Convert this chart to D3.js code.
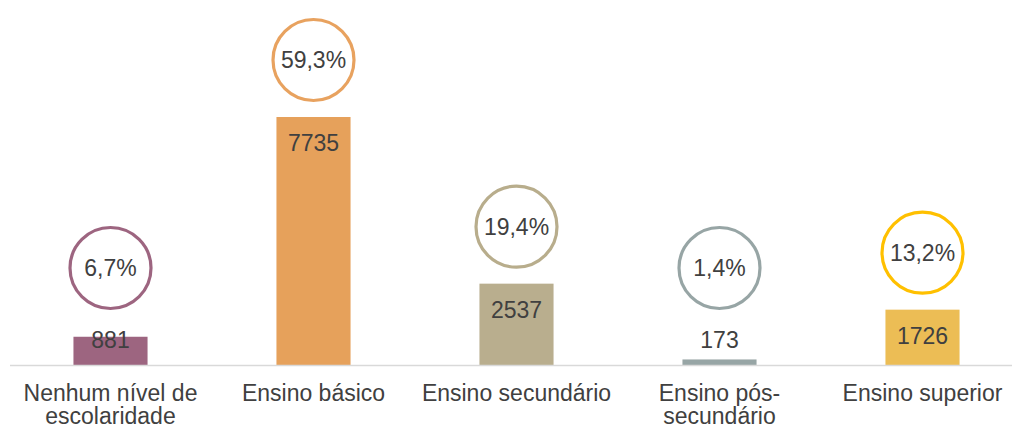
<!DOCTYPE html>
<html>
<head>
<meta charset="utf-8">
<script src="https://cdn.jsdelivr.net/npm/d3@7"></script>
<style>
  body { margin: 0; background: #fff; }
  text { font-family: "Liberation Sans", Arial, sans-serif; fill: #404040; }
</style>
</head>
<body>
<div id="chart"></div>
<script>
// Data
var categories = [
    ["Nenhum nível de", "escolaridade"],
    ["Ensino básico"],
    ["Ensino secundário"],
    ["Ensino pós-", "secundário"],
    ["Ensino superior"]
];
var counts = [881, 7735, 2537, 173, 1726];
var shares = ["6,7%", "59,3%", "19,4%", "1,4%", "13,2%"];

var barColors = ["#9d6580", "#e6a15b", "#b9ae8e", "#97a5a5", "#ecbd55"];
var ringColors = ["#9d6580", "#e8a25f", "#b8ad8c", "#97a5a5", "#ffc000"];

var width = 1012;
var height = 429;
var baseY = 365;

var svg = d3.select("#chart")
    .append("svg")
    .attr("width", width)
    .attr("height", height);

// Band scale for the categories
var x = d3.scaleBand()
    .domain(d3.range(categories.length))
    .range([9, 1024])
    .paddingInner(0.635)
    .paddingOuter(0.3175);

// Value scale
var y = d3.scaleLinear()
    .domain([0, 7735])
    .range([baseY, 117]);

// Bars
svg.selectAll(".bar")
    .data(counts)
    .enter().append("rect")
    .attr("class", "bar")
    .attr("x", (d, i) => x(i))
    .attr("y", d => y(d))
    .attr("width", x.bandwidth())
    .attr("height", d => baseY - y(d))
    .attr("fill", (d, i) => barColors[i]);

// Baseline
svg.append("line")
    .attr("x1", 10)
    .attr("x2", width)
    .attr("y1", baseY + 0.5)
    .attr("y2", baseY + 0.5)
    .attr("stroke", "#d9d9d9")
    .attr("stroke-width", 1.5);

// Value labels (inside end, pushed up when the bar is too short)
svg.selectAll(".value")
    .data(counts)
    .enter().append("text")
    .attr("class", "value")
    .attr("x", (d, i) => x(i) + x.bandwidth() / 2)
    .attr("y", d => Math.min(y(d) + 26, 340))
    .attr("dy", "0.35em")
    .attr("text-anchor", "middle")
    .style("font-size", "23px")
    .text(d => d);

// Percentage rings above the bars
var rings = svg.selectAll(".ring")
    .data(counts)
    .enter().append("g")
    .attr("class", "ring")
    .attr("transform", (d, i) =>
        `translate(${x(i) + x.bandwidth() / 2}, ${Math.min(y(d) - 57, 268)})`);

rings.append("circle")
    .attr("r", 40.5)
    .attr("fill", "#fff")
    .attr("stroke", (d, i) => ringColors[i])
    .attr("stroke-width", 3.2);

rings.append("text")
    .attr("dy", "0.35em")
    .attr("text-anchor", "middle")
    .style("font-size", "23px")
    .text((d, i) => shares[i]);

// Category labels
var cats = svg.selectAll(".cat")
    .data(categories)
    .enter().append("text")
    .attr("class", "cat")
    .attr("text-anchor", "middle")
    .attr("x", (d, i) => x(i) + x.bandwidth() / 2)
    .attr("y", 401)
    .style("font-size", "23px");

cats.selectAll("tspan")
    .data(d => d)
    .enter().append("tspan")
    .attr("x", function() { return this.parentNode.getAttribute("x"); })
    .attr("dy", (d, i) => i === 0 ? 0 : 23)
    .text(d => d);
</script>
</body>
</html>
